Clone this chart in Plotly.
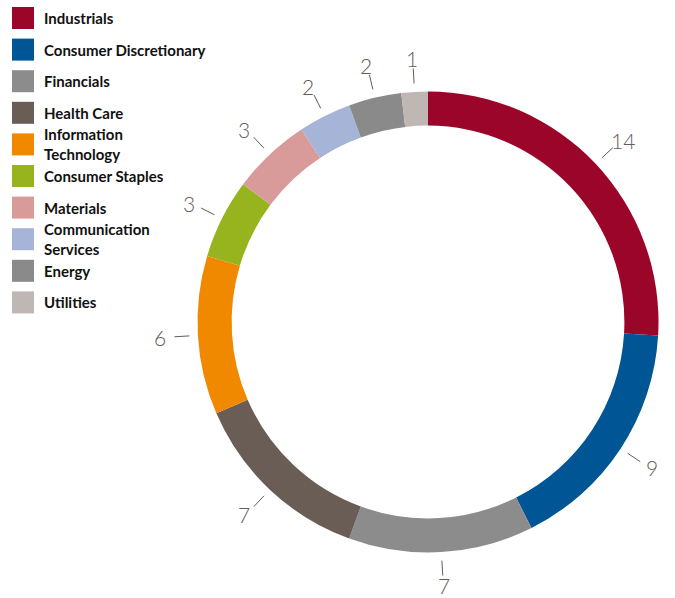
import math
import plotly.graph_objects as go

sectors = ["Industrials", "Consumer Discretionary", "Financials", "Health Care",
           "Information Technology", "Consumer Staples", "Materials",
           "Communication Services", "Energy", "Utilities"]
legend_text = ["Industrials", "Consumer Discretionary", "Financials", "Health Care",
               "Information<br>Technology", "Consumer Staples", "Materials",
               "Communication<br>Services", "Energy", "Utilities"]
counts = [14, 9, 7, 7, 6, 3, 3, 2, 2, 1]
colors = ["#9b0529", "#005594", "#8c8c8c", "#6a5d56", "#f08900", "#97b41e",
          "#d99b99", "#a6b4d8", "#8a8a8a", "#bfb7b3"]

W, H = 675, 598
cx, cy, R = 428, 322, 230.5
hole = 0.852

fig = go.Figure(go.Pie(
    labels=sectors, values=counts, sort=False, direction="clockwise", rotation=0,
    hole=hole, marker=dict(colors=colors, line=dict(width=0)),
    textinfo="none", hoverinfo="label+value", showlegend=False,
    domain=dict(x=[(cx - R) / W, (cx + R) / W],
                y=[(H - cy - R) / H, (H - cy + R) / H]),
))

def px2paper(x, y):
    return x / W, 1 - y / H

total = sum(counts)
cum = 0
shapes = []
annotations = []
label_color = "#645c57"
for v in counts:
    mid = (cum + v / 2) / total * 2 * math.pi
    cum += v
    s, c = math.sin(mid), math.cos(mid)
    x1, y1 = px2paper(cx + 239 * s, cy - 239 * c)
    x2, y2 = px2paper(cx + 254 * s, cy - 254 * c)
    shapes.append(dict(type="line", xref="paper", yref="paper", x0=x1, y0=y1, x1=x2, y1=y2,
                       line=dict(color=label_color, width=1)))
    lx, ly = px2paper(cx + 268 * s, cy - 264 * c)
    annotations.append(dict(x=lx, y=ly, xref="paper", yref="paper", text=str(v),
                            showarrow=False, xanchor="center", yanchor="middle", borderpad=0,
                            font=dict(family="Lato", size=21, color=label_color, weight=300)))

# custom legend
for i, (t, col) in enumerate(zip(legend_text, colors)):
    yc = 18 + i * 31.6
    x0, y0 = px2paper(12, yc - 11)
    x1, y1 = px2paper(34, yc + 11)
    shapes.append(dict(type="rect", xref="paper", yref="paper", x0=x0, y0=y1, x1=x1, y1=y0,
                       fillcolor=col, line=dict(width=0)))
    tx, ty = px2paper(43, yc)
    annotations.append(dict(x=tx, y=ty, xref="paper", yref="paper", text=t, showarrow=False,
                            xanchor="left", yanchor="middle", align="left", borderpad=0,
                            font=dict(family="Lato", size=15, color="#111111", weight="bold")))

fig.update_layout(width=W, height=H, margin=dict(l=0, r=0, t=0, b=0),
                  paper_bgcolor="white", plot_bgcolor="white",
                  shapes=shapes, annotations=annotations)
fig.write_html("out.html")
